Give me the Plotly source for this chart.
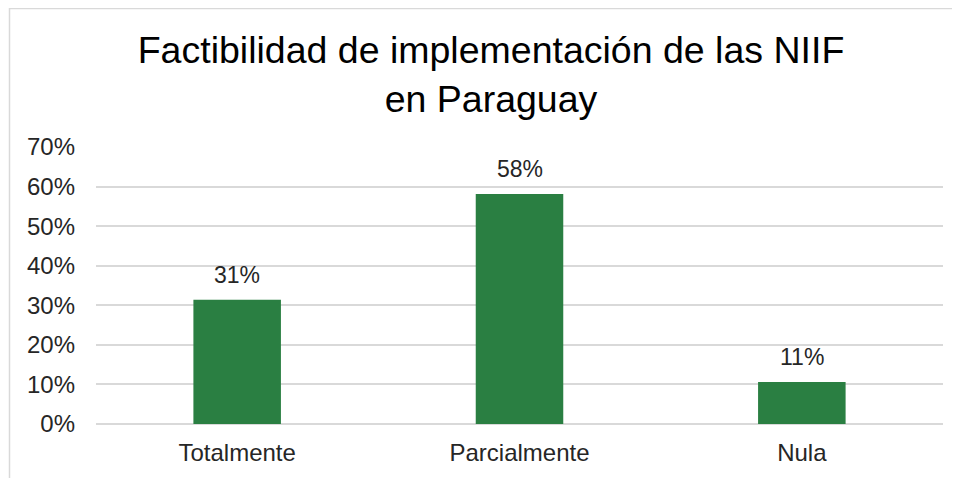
import plotly.graph_objects as go

# datos del gráfico
categorias = ['Totalmente', 'Parcialmente', 'Nula']
porcentajes = [0.314, 0.581, 0.106]
ticks_y = [0, 0.1, 0.2, 0.3, 0.4, 0.5, 0.6, 0.7]
etiquetas_y = ['0%', '10%', '20%', '30%', '40%', '50%', '60%', '70%']

fig = go.Figure(go.Bar(
    x=categorias,
    y=porcentajes,
    marker=dict(color='#2a7f42', line=dict(width=0)),
))

# etiquetas de datos encima de cada barra
for cat, val in zip(categorias, porcentajes):
    fig.add_annotation(
        x=cat, y=val, text=f'{val:.0%}',
        showarrow=False, yanchor='bottom', yshift=10,
        font=dict(size=23, color='#262626'),
    )

margen_l, margen_r, margen_t, margen_b = 88, 25, 139, 62
ancho_plot = 960 - margen_l - margen_r
alto_plot = 478 - margen_t - margen_b

fig.update_layout(
    title=dict(
        text='Factibilidad de implementación de las NIIF<br>en Paraguay',
        x=483 / 960, xanchor='center',
        y=1 - 55 / 478, yanchor='top', yref='container',
        font=dict(family='Liberation Sans, Arial', size=37.5, color='#000000'),
    ),
    width=960,
    height=478,
    margin=dict(l=margen_l, r=margen_r, t=margen_t, b=margen_b),
    paper_bgcolor='white',
    plot_bgcolor='white',
    font=dict(family='Liberation Sans, Arial', size=24, color='#262626'),
    bargap=0.69,
    showlegend=False,
    shapes=[dict(
        type='rect', xref='paper', yref='paper',
        x0=(1.5 - margen_l) / ancho_plot, x1=1.2,
        y0=-0.5, y1=1 + (margen_t - 0.5) / alto_plot,
        line=dict(color='#d9d9d9', width=1.5),
        fillcolor='rgba(0,0,0,0)', layer='above',
    )],
)

fig.update_xaxes(showgrid=False, showline=False, ticks='', ticklabelstandoff=12)
fig.update_yaxes(
    range=[0, 0.7],
    tickvals=ticks_y,
    ticktext=etiquetas_y,
    showgrid=True,
    gridcolor='#d9d9d9',
    gridwidth=1.5,
    zeroline=True,
    zerolinecolor='#d9d9d9',
    zerolinewidth=1.5,
    ticklabelstandoff=20,
)

fig.write_html('out.html')
